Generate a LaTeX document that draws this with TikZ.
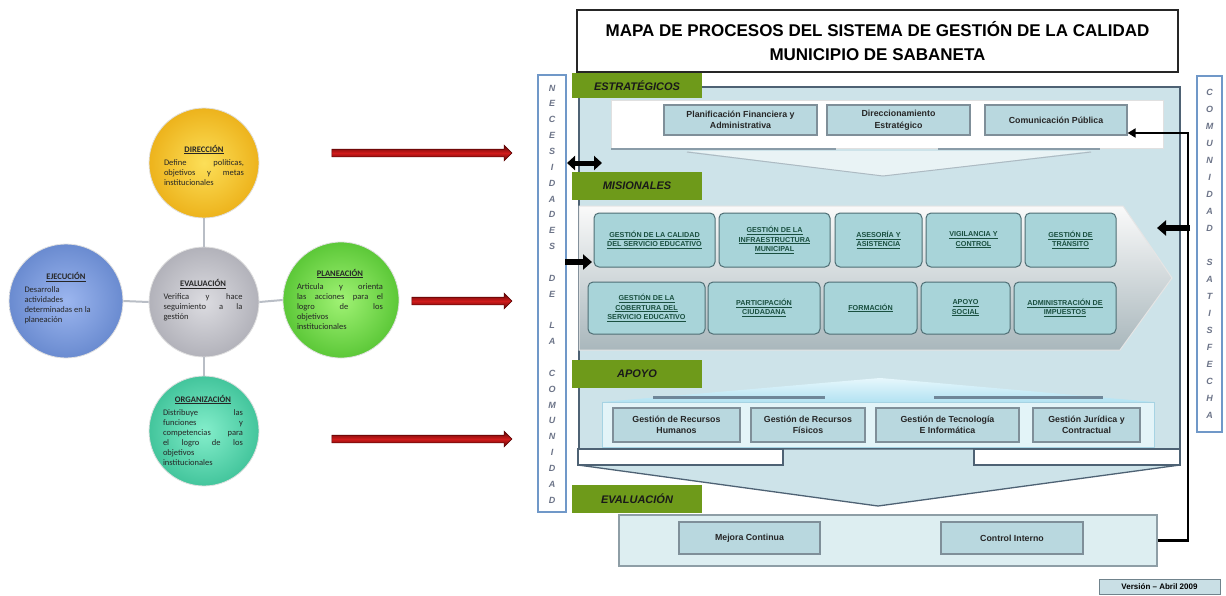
\documentclass[tikz,border=0pt]{standalone}
\usepackage{fontspec}
\setmainfont{Liberation Sans}
\newfontfamily\calfont{Carlito}
\usetikzlibrary{arrows.meta,shapes.arrows,calc}

\definecolor{panelfill}{HTML}{CDE3E9}
\definecolor{panelline}{HTML}{4E6274}
\definecolor{boxfill}{HTML}{B9D8DF}
\definecolor{boxline}{HTML}{7F8F99}
\definecolor{misfill}{HTML}{A8D4D9}
\definecolor{misline}{HTML}{4E6E74}
\definecolor{mistext}{HTML}{1A5040}
\definecolor{labelgreen}{HTML}{6E9A1A}
\definecolor{sideline}{HTML}{7098C8}
\definecolor{sidetext}{HTML}{6C7488}
\definecolor{linkgray}{HTML}{B9BEC6}
\definecolor{arrowred}{HTML}{D01B1B}
\definecolor{arrowdark}{HTML}{5E0505}
\definecolor{barline}{HTML}{8A9CA8}
\definecolor{apobar}{HTML}{6F8698}
\definecolor{apofill}{HTML}{E3F4F8}
\definecolor{apoline}{HTML}{A6D3E3}
\definecolor{wedgetop}{HTML}{E6F7FC}
\definecolor{wedgebot}{HTML}{B3E2F2}
\definecolor{evafill}{HTML}{DDEEF1}
\definecolor{evaline}{HTML}{8E9EA6}
\definecolor{verfill}{HTML}{C9DFE5}
\definecolor{verline}{HTML}{70838C}
\definecolor{pentbot}{HTML}{A9B7BC}
% phase circle colours
\definecolor{yelin}{HTML}{FCDF58}
\definecolor{yelout}{HTML}{EDB31C}
\definecolor{bluin}{HTML}{9CB6EF}
\definecolor{bluout}{HTML}{6A8BD0}
\definecolor{grain}{HTML}{DCDCE1}
\definecolor{graout}{HTML}{B2B2BA}
\definecolor{grnin}{HTML}{A0F274}
\definecolor{grnout}{HTML}{5CC838}
\definecolor{teain}{HTML}{84EECB}
\definecolor{teaout}{HTML}{43C59C}

\newcommand\mline[1]{\underline{#1}}
\newcommand\phasehead[1]{{\centering\textbf{\underline{#1}}\par}\vspace{3pt}}

\begin{document}
\begin{tikzpicture}[x=1pt,y=-1pt,
  phase/.style={circle, minimum size=#1, inner sep=0pt, draw=black!12, line width=0.8pt},
  phasetext/.style={text width=#1, align=justify, inner sep=0pt,
    font=\calfont\fontsize{8.5}{10}\selectfont, text=black!85},
  link/.style={draw=linkgray, line width=2pt},
  redarrow/.style={single arrow, single arrow head extend=4pt, inner sep=3.5pt,
    minimum height=#1, draw=arrowdark, line width=0.6pt,
    top color=arrowdark, bottom color=arrowdark, middle color=arrowred},
  grouplabel/.style={fill=labelgreen, minimum width=130pt, minimum height=#1, inner sep=0pt,
    font=\fontsize{11}{13}\selectfont\bfseries\itshape, text=black!90},
  procbox/.style={fill=boxfill, draw=boxline, line width=1.2pt, inner sep=0pt, align=center,
    font=\fontsize{8.8}{11.5}\selectfont\bfseries, text=black!85},
  misbox/.style={fill=misfill, draw=misline, line width=1pt, rounded corners=5pt, inner sep=0pt,
    align=center, font=\fontsize{7.2}{9.3}\selectfont\bfseries, text=mistext},
  sidebox/.style={draw=sideline, line width=1.2pt, fill=white, inner sep=0pt},
  sidechar/.style={font=\fontsize{9}{9}\selectfont\bfseries\itshape, text=sidetext, inner sep=0pt},
  blockarrow/.style={line width=5pt, black},
]
\useasboundingbox[fill=white] (0,0) rectangle (1226,595);

% ================= management cycle (left) =================
\node[phase=110pt, inner color=yelin, outer color=yelout] (dir) at (204,163) {};
\node[phase=114pt, inner color=bluin, outer color=bluout] (eje) at (66,301) {};
\node[phase=110pt, inner color=grain, outer color=graout] (eva) at (204,302) {};
\node[phase=116pt, inner color=grnin, outer color=grnout] (pla) at (341,300) {};
\node[phase=110pt, inner color=teain, outer color=teaout] (org) at (204,431) {};

\draw[link] (eva.north) -- (dir.south);
\draw[link] (eva.west) -- (eje.east);
\draw[link] (eva.east) -- (pla.west);
\draw[link] (eva.south) -- (org.north);

\node[phasetext=80pt] (dirT) at (204,165)
  {\phasehead{DIRECCIÓN}Define políticas,\linebreak objetivos y metas\linebreak institucionales};
\node[phasetext=83pt] (ejeT) at (66,298)
  {\phasehead{EJECUCIÓN}Desarrolla\newline actividades\newline determinadas en la\newline planeación};
\node[phasetext=79pt] (evaT) at (203,300)
  {\phasehead{EVALUACIÓN}Verifica y hace\linebreak seguimiento a la\linebreak gestión};
\node[phasetext=86pt] (plaT) at (340,299)
  {\phasehead{PLANEACIÓN}Articula y orienta\linebreak las acciones para el\linebreak logro de los\linebreak objetivos\newline institucionales};
\node[phasetext=80pt] (orgT) at (203,430)
  {\phasehead{ORGANIZACIÓN}Distribuye las\linebreak funciones y\linebreak competencias para\linebreak el logro de los\linebreak objetivos\newline institucionales};

% red arrows towards the process map
\node[redarrow=180pt] (arrA) at (420,153) {};
\node[redarrow=100pt] (arrB) at (460,301) {};
\node[redarrow=180pt] (arrC) at (420,439) {};

% ================= process map (right) =================
\node[draw=panelline, line width=1.3pt, fill=panelfill, minimum width=601pt, minimum height=362pt, inner sep=0pt] (panel) at (879.5,268) {};

% strategic processes
\node[fill=white, draw=white!88!black, line width=0.5pt, minimum width=552pt, minimum height=48pt, inner sep=0pt] (estrBand) at (887,124) {};
\fill[white!55!panelfill] (687,151) -- (1091,151) -- (883,176) -- cycle;
\draw[draw=barline!70, line width=1pt] (687,152) -- (883,176) -- (1091,152);
\draw[draw=barline, line width=2.5pt] (611,149) -- (836,149);
\draw[draw=barline, line width=2.5pt] (938,149) -- (1100,149);

\node[procbox, minimum width=153pt, minimum height=30pt] (planFin) at (740.5,120) {Planificación Financiera y\\Administrativa};
\node[procbox, minimum width=143pt, minimum height=30pt] (dirEst) at (898.5,120) {Direccionamiento\\Estratégico};
\node[procbox, minimum width=142pt, minimum height=30pt] (comPub) at (1056,120) {Comunicación Pública};

% mission processes
\path[top color=white!96!gray, bottom color=pentbot, draw=white!80!gray, line width=1pt]
  (579,206) -- (1123,206) -- (1172,278) -- (1120,350) -- (579,350) -- cycle;

\node[misbox, minimum width=121pt, minimum height=54pt] (m1) at (654.5,240) {\mline{GESTIÓN DE LA CALIDAD}\\\mline{DEL SERVICIO EDUCATIVO}};
\node[misbox, minimum width=111pt, minimum height=54pt] (m2) at (774.5,240) {\mline{GESTIÓN DE LA}\\\mline{INFRAESTRUCTURA}\\\mline{MUNICIPAL}};
\node[misbox, minimum width=87pt, minimum height=54pt] (m3) at (878.5,240) {\mline{ASESORÍA Y}\\\mline{ASISTENCIA}};
\node[misbox, minimum width=95pt, minimum height=54pt] (m4) at (973.5,240) {\mline{VIGILANCIA Y}\\\mline{CONTROL}};
\node[misbox, minimum width=91pt, minimum height=54pt] (m5) at (1070.5,240) {\mline{GESTIÓN DE}\\\mline{TRÁNSITO}};

\node[misbox, minimum width=117pt, minimum height=52pt] (n1) at (646.5,308) {\mline{GESTIÓN DE LA}\\\mline{COBERTURA DEL}\\\mline{SERVICIO EDUCATIVO}};
\node[misbox, minimum width=112pt, minimum height=52pt] (n2) at (764,308) {\mline{PARTICIPACIÓN}\\\mline{CIUDADANA}};
\node[misbox, minimum width=93pt, minimum height=52pt] (n3) at (870.5,308) {\mline{FORMACIÓN}};
\node[misbox, minimum width=89pt, minimum height=52pt] (n4) at (965.5,308) {\mline{APOYO}\\\mline{SOCIAL}};
\node[misbox, minimum width=102pt, minimum height=52pt] (n5) at (1065,308) {\mline{ADMINISTRACIÓN DE}\\\mline{IMPUESTOS}};

% support processes
\path[top color=wedgetop, bottom color=wedgebot] (602,402) -- (880,378) -- (1154,402) -- cycle;
\draw[draw=apobar, line width=3pt] (653,397) -- (825,397);
\draw[draw=apobar, line width=3pt] (934,397) -- (1103,397);
\node[fill=apofill, draw=apoline, line width=1pt, minimum width=552pt, minimum height=45pt, inner sep=0pt] (apoBand) at (878,424.5) {};

\node[procbox, minimum width=127pt, minimum height=34pt] (a1) at (676.5,425) {Gestión de Recursos\\Humanos};
\node[procbox, minimum width=114pt, minimum height=34pt] (a2) at (808,425) {Gestión de Recursos\\Físicos};
\node[procbox, minimum width=143pt, minimum height=34pt] (a3) at (947.5,425) {Gestión de Tecnología\\E Informática};
\node[procbox, minimum width=107pt, minimum height=34pt] (a4) at (1086.5,425) {Gestión Jurídica y\\Contractual};

% flow down to evaluation
\path[fill=panelfill, draw=panelline, line width=1.3pt]
  (783,449) -- (974,449) -- (974,465) -- (1180,465) -- (878,506) -- (578,465) -- (783,465) -- cycle;
\draw[fill=white, draw=panelline, line width=1.3pt] (578,449) rectangle (783,465);
\draw[fill=white, draw=panelline, line width=1.3pt] (974,449) rectangle (1180,465);

% evaluation processes
\node[fill=evafill, draw=evaline, line width=1.2pt, minimum width=538pt, minimum height=51pt, inner sep=0pt] (evaBand) at (888,540.5) {};
\node[procbox, minimum width=141pt, minimum height=32pt] (e1) at (749.5,538) {Mejora Continua};
\node[procbox, minimum width=142pt, minimum height=32pt] (e2) at (1012,538) {Control Interno};

% group labels
\node[grouplabel=25pt] (lblEstr) at (637,85.5) {ESTRATÉGICOS};
\node[grouplabel=28pt] (lblMis) at (637,186) {MISIONALES};
\node[grouplabel=28pt] (lblApo) at (637,374) {APOYO};
\node[grouplabel=28pt] (lblEva) at (637,499) {EVALUACIÓN};

% side columns
\node[sidebox, minimum width=28pt, minimum height=437pt] (needs) at (552,293.5) {};
\foreach \ch [count=\i from 0] in {N,E,C,E,S,I,D,A,D,E,S,{},D,E,{},L,A,{},C,O,M,U,N,I,D,A,D}
  \node[sidechar] (nc\i) at (552,88+\i*15.85) {\ch};
\node[sidebox, minimum width=25pt, minimum height=356pt] (satis) at (1209.5,254) {};
\foreach \ch [count=\i from 0] in {C,O,M,U,N,I,D,A,D,{},S,A,T,I,S,F,E,C,H,A}
  \node[sidechar] (sc\i) at (1209.5,92+\i*17) {\ch};

% black flow arrows
\coordinate (nL1) at (567,163);  \coordinate (pL1) at (602,163);
\draw[blockarrow, {Triangle[width=14pt,length=8pt]}-{Triangle[width=14pt,length=8pt]}] (nL1) -- (pL1);
\coordinate (nL2) at (565,262);  \coordinate (pL2) at (592,262);
\draw[blockarrow, line width=6pt, -{Triangle[width=15pt,length=9pt]}] (nL2) -- (pL2);
\coordinate (sR1) at (1190,228); \coordinate (pR1) at (1157,228);
\draw[blockarrow, line width=6pt, -{Triangle[width=15pt,length=9pt]}] (sR1) -- (pR1);

% feedback from evaluation to communication
\coordinate (fb1) at (1188,540.5);
\coordinate (fb2) at (1188,133);
\draw[line width=2.5pt, black, -{Triangle[width=9pt,length=8pt]}]
  (evaBand.east) -- (fb1) -- (fb2) -- (comPub.east |- fb2);

% title and version
\node[draw=black!85, line width=2.2pt, fill=white, minimum width=601pt, minimum height=62pt, inner sep=0pt,
  align=center, font=\fontsize{17}{24}\selectfont\bfseries] (title) at (877.5,41)
  {MAPA DE PROCESOS DEL SISTEMA DE GESTIÓN DE LA CALIDAD\\MUNICIPIO DE SABANETA};
\node[fill=verfill, draw=verline, line width=1pt, minimum width=121pt, minimum height=15pt, inner sep=0pt,
  font=\fontsize{8}{9}\selectfont\bfseries] (version) at (1159.5,586.5) {Versión – Abril 2009};
\end{tikzpicture}
\end{document}
